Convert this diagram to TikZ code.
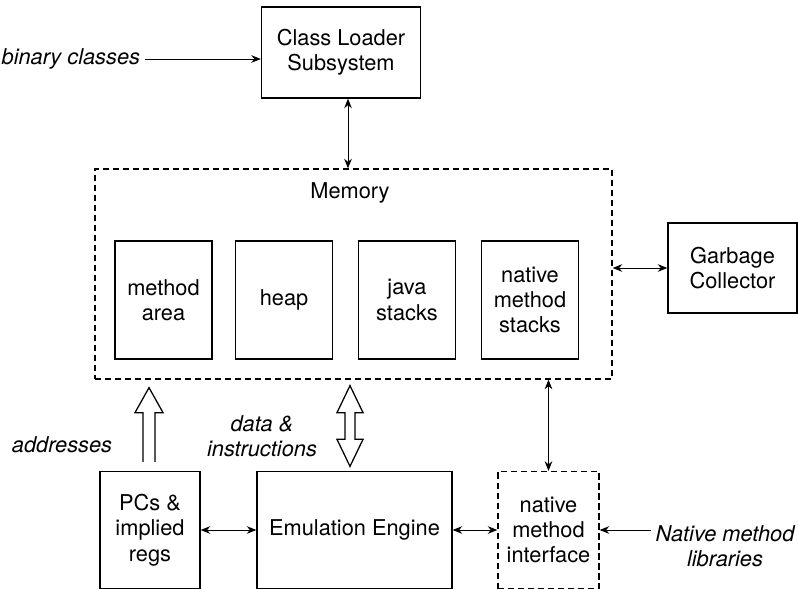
\documentclass[tikz,border=0pt]{standalone}
\usepackage{fontspec}
\setmainfont{TeX Gyre Heros}
\usetikzlibrary{arrows.meta,positioning,calc}

\begin{document}
\begin{tikzpicture}[x=0.25mm,y=-0.25mm,>={Stealth[length=2.4mm,width=1.9mm]},
   font=\fontsize{15.5}{18}\selectfont,
   box/.style={draw,line width=0.9pt,inner sep=0pt,align=center},
   dbox/.style={box,dash pattern=on 1.6mm off 0.9mm},
   part/.style={box,minimum width=24.25mm,minimum height=29.5mm},
   lbl/.style={font=\fontsize{15.5}{18}\selectfont\itshape,align=center},
   link/.style={<->,line width=0.6pt},
   hollow/.style={draw,line width=0.9pt,fill=white,line join=miter}]
  \useasboundingbox (0,0) rectangle (798,589);
  \node[box,minimum width=39.75mm,minimum height=22.75mm] (loader) at (341,52.5) {Class Loader\\Subsystem};
  \node[dbox,minimum width=129.25mm,minimum height=52.5mm] (mem) at (353.5,274) {};
  \node (memlbl) at (350,193) {Memory};
  \node[part] (area)   at (163.5,300) {method\\area};
  \node[part] (heap)   at (284,300)   {heap};
  \node[part] (jstack) at (407,300)   {java\\stacks};
  \node[part] (nstack) at (530,300)   {native\\method\\stacks};
  \node[box,minimum width=32.25mm,minimum height=22.5mm] (gc) at (732.5,268) {Garbage\\Collector};
  \node[box,minimum width=25mm,minimum height=29.25mm] (pcs) at (150,530) {PCs \&\\implied\\regs};
  \node[box,minimum width=48.75mm,minimum height=29.25mm] (emu) at (354.5,530) {Emulation Engine};
  \node[dbox,minimum width=25.25mm,minimum height=29.25mm] (nmi) at (548.5,530) {native\\method\\interface};
  % outside labels
  \node[lbl,anchor=east] (bin) at (145,59) {binary classes};
  \node[lbl] (addr) at (62,445) {addresses};
  \node[lbl] (data) at (262,436) {data \&\\instructions};
  \node[lbl] (lib)  at (725,546) {Native method\\libraries};
  % plain connectors
  \draw[->,line width=0.6pt] (bin.east) -- (bin.east -| loader.west);
  \draw[link] ($(loader.south)+(7,0)$) -- ($(loader.south |- mem.north)+(7,0)$);
  \draw[link] (gc.west -| mem.east) -- (gc.west);
  \draw[link] (nmi.north |- mem.south) -- (nmi.north);
  \draw[link] (pcs) -- (emu);
  \draw[link] (emu) -- (nmi);
  \draw[->,line width=0.6pt] (lib.west |- nmi.east) -- (nmi.east);
  % hollow arrows
  \coordinate (a0) at ($(pcs.north)+(-1,-9)$);
  \coordinate (a1) at ($(mem.south -| a0)+(0,8)$);
  \draw[hollow] ($(a0)+(-6,0)$) -- ($(a1)+(-6,25)$) -- ($(a1)+(-14,25)$) -- (a1)
     -- ($(a1)+(14,25)$) -- ($(a1)+(6,25)$) -- ($(a0)+(6,0)$);
  \coordinate (b0) at ($(mem.south -| emu.north)+(-4.5,6)$);
  \coordinate (b1) at ($(emu.north)+(-4.5,-4.5)$);
  \draw[hollow] (b0) -- ($(b0)+(13,27)$) -- ($(b0)+(5,27)$) -- ($(b1)+(5,-27)$)
     -- ($(b1)+(13,-27)$) -- (b1) -- ($(b1)+(-13,-27)$) -- ($(b1)+(-5,-27)$)
     -- ($(b0)+(-5,27)$) -- ($(b0)+(-13,27)$) -- cycle;
\end{tikzpicture}
\end{document}
